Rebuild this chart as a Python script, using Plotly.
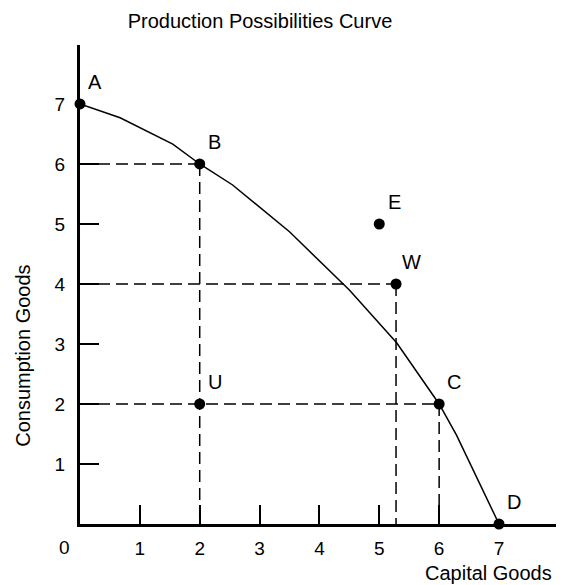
import plotly.graph_objects as go

# Data
curve_x = [0, 0.67, 1.55, 2, 2.55, 3.5, 4.5, 5.29, 6, 6.29, 7]
curve_y = [7, 6.77, 6.33, 6, 5.65, 4.87, 3.9, 3.02, 2, 1.48, 0]

point_labels = ["A", "B", "E", "W", "C", "U", "D"]
point_x = [0, 2, 5, 5.28, 6, 2, 7]
point_y = [7, 6, 5, 4, 2, 2, 0]

# dashed guide lines: (x0, y0) -> (x1, y1)
guides_x0 = [0, 2, 0, 5.28, 0, 6]
guides_y0 = [6, 6, 4, 4, 2, 2]
guides_x1 = [2, 2, 5.28, 5.28, 6, 6]
guides_y1 = [6, 0, 4, 0, 2, 0]

x_ticks = [1, 2, 3, 4, 5, 6, 7]
x_tick_text = ["1", "2", "3", "4", "5", "6", "7"]
x_tick_marks = [1, 2, 3, 4, 5, 6]
y_ticks = [1, 2, 3, 4, 5, 6, 7]
y_tick_text = ["1", "2", "3", "4", "5", "6", "7"]
y_tick_marks = [1, 2, 3, 4, 5, 6]

FONT = "Liberation Sans, Arial, sans-serif"

# page body has an 8px margin; figure is sized to fit the window
W, H = 556, 577

fig = go.Figure()

for x0, y0, x1, y1 in zip(guides_x0, guides_y0, guides_x1, guides_y1):
    fig.add_trace(go.Scatter(
        x=[x0, x1], y=[y0, y1], mode="lines",
        line=dict(color="black", width=1.5, dash="12px,6px"),
        hoverinfo="skip", showlegend=False, cliponaxis=False))

fig.add_trace(go.Scatter(
    x=curve_x, y=curve_y, mode="lines",
    line=dict(color="black", width=1.5),
    showlegend=False, cliponaxis=False))

fig.add_trace(go.Scatter(
    x=point_x, y=point_y, mode="markers",
    marker=dict(color="black", size=11),
    showlegend=False, cliponaxis=False))

for lab, px, py in zip(point_labels, point_x, point_y):
    fig.add_annotation(x=px, y=py, text=lab, showarrow=False,
                       xshift=15, yshift=22, xanchor="center", yanchor="middle",
                       font=dict(family=FONT, size=20, color="black"))

# origin label
fig.add_annotation(x=0, y=0, text="0", showarrow=False,
                   xshift=-16, yshift=-23, xanchor="center", yanchor="middle",
                   font=dict(family=FONT, size=19, color="black"))

# axis titles
fig.add_annotation(xref="paper", yref="paper", x=-0.118, y=0.351,
                   text="Consumption Goods", textangle=-90, showarrow=False,
                   xanchor="center", yanchor="middle",
                   font=dict(family=FONT, size=20, color="black"))
fig.add_annotation(xref="paper", yref="paper", x=0.843, y=-0.102,
                   text="Capital Goods", showarrow=False,
                   xanchor="center", yanchor="middle",
                   font=dict(family=FONT, size=20, color="black"))

fig.update_layout(
    width=W, height=H,
    margin=dict(l=72, r=0, t=37, b=61, autoexpand=False),
    paper_bgcolor="white", plot_bgcolor="white",
    title=dict(text="Production Possibilities Curve", x=252/W, xref="container",
               xanchor="center", y=1 - 13/H, yref="container", yanchor="middle",
               font=dict(family=FONT, size=20, color="black")),
    font=dict(family=FONT, size=19, color="black"),
)

fig.update_xaxes(range=[0, 8.086], showgrid=False, zeroline=False,
                 showline=True, linecolor="black", linewidth=3,
                 ticks="", tickvals=x_ticks, ticktext=x_tick_text,
                 ticklabelstandoff=5,
                 minor=dict(tickmode="array", tickvals=x_tick_marks, ticks="inside",
                            ticklen=19, tickwidth=1.5, tickcolor="black", showgrid=False),
                 tickfont=dict(family=FONT, size=19, color="black"))
fig.update_yaxes(range=[0, 7.983], showgrid=False, zeroline=False,
                 showline=True, linecolor="black", linewidth=3,
                 ticks="", tickvals=y_ticks, ticktext=y_tick_text,
                 ticklabelstandoff=8,
                 minor=dict(tickmode="array", tickvals=y_tick_marks, ticks="inside",
                            ticklen=19, tickwidth=1.5, tickcolor="black", showgrid=False),
                 tickfont=dict(family=FONT, size=19, color="black"))

fig.write_html("out.html")
